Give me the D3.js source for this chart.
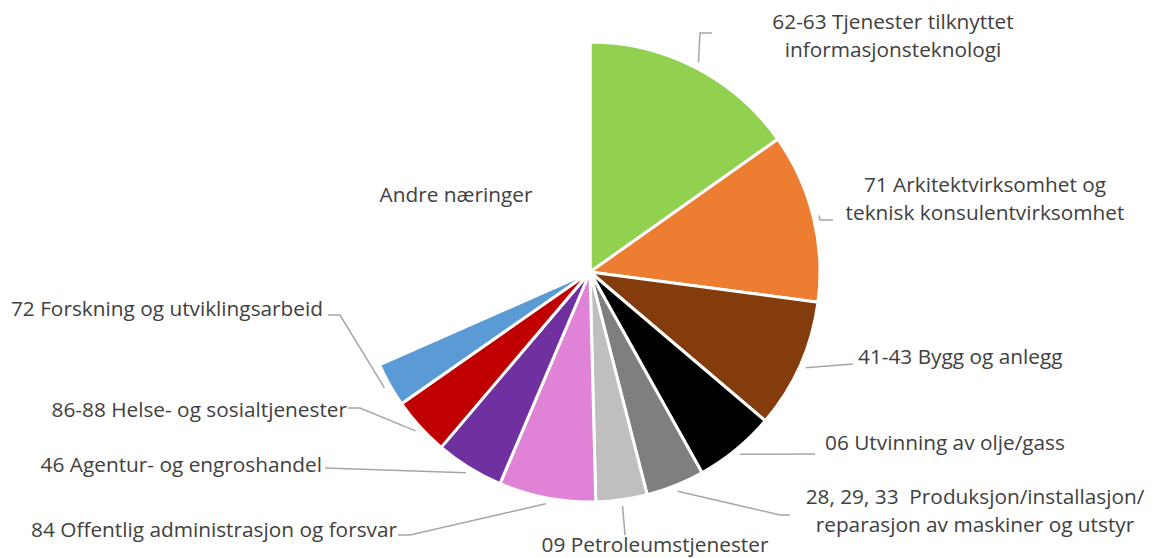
<!DOCTYPE html>
<html>
<head>
<meta charset="utf-8">
<script src="https://cdn.jsdelivr.net/npm/d3@7"></script>
<style>
  body { margin: 0; background: #fff; }
  svg text { font-family: "Open Sans", sans-serif; fill: #404040; white-space: pre; }
</style>
</head>
<body>
<svg id="chart" width="1152" height="558"></svg>
<script>
// data (percent of total)
var categories = [
  "62-63 Tjenester tilknyttet\ninformasjonsteknologi",
  "71 Arkitektvirksomhet og\nteknisk konsulentvirksomhet",
  "41-43 Bygg og anlegg",
  "06 Utvinning av olje/gass",
  "28, 29, 33  Produksjon/installasjon/\nreparasjon av maskiner og utstyr",
  "09 Petroleumstjenester",
  "84 Offentlig administrasjon og forsvar",
  "46 Agentur- og engroshandel",
  "86-88 Helse- og sosialtjenester",
  "72 Forskning og utviklingsarbeid",
  "Andre næringer"
];
var values = [15.2, 11.9, 9.1, 5.7, 4.1, 3.6, 6.8, 4.8, 4.1, 3.1, 31.6];
var colors = ["#92d050", "#ed7d31", "#843c0c", "#000000", "#7f7f7f", "#bfbfbf",
              "#e083d6", "#7030a0", "#c00000", "#5b9bd5", "none"];

//Dimension-related vars
var cx = 590, cy = 272, radius = 230;

// label placement: text anchor point, then leader points (elbow, end) – null = no leader
var labelLayout = [
  {x: 893, y: 29, anchor: 'middle', leader: [[700, 33], [712, 33]]},
  {x: 985, y: 192, anchor: 'middle', leader: [[820, 220], [833, 220]]},
  {x: 858, y: 364, anchor: 'start', leader: [[853, 364]]},
  {x: 825, y: 450, anchor: 'start', leader: [[815, 454]]},
  {x: 975, y: 504, anchor: 'middle', leader: [[780, 515], [790, 515]]},
  {x: 655, y: 552, anchor: 'middle', leader: [[625, 535]]},
  {x: 397, y: 537, anchor: 'end', leader: [[410, 535], [398, 535]]},
  {x: 322, y: 472, anchor: 'end', leader: [[325, 468]]},
  {x: 347, y: 417, anchor: 'end', leader: [[360, 408], [348, 408]]},
  {x: 323, y: 316, anchor: 'end', leader: [[340, 315], [328, 315]]},
  {x: 456, y: 202, anchor: 'middle', leader: null}
];

var slices = categories.map(function(c, i) {
  return {name: c, value: values[i], color: colors[i], layout: labelLayout[i]};
});

var svg = d3.select('#chart');
var g = svg.append('g').attr('transform', 'translate(' + cx + ',' + cy + ')');

var pie = d3.pie()
  .sort(null)
  .value(function(d) { return d.value; });

var arc = d3.arc().innerRadius(0).outerRadius(radius);
var leaderArc = d3.arc().innerRadius(radius + 6).outerRadius(radius + 6);

var arcs = pie(slices);

g.selectAll('path.slice')
  .data(arcs)
  .enter()
  .append('path')
  .attr('class', 'slice')
  .attr('d', arc)
  .style('fill', function(d) { return d.data.color === 'none' ? '#fff' : d.data.color; })
  .style('stroke', '#fff')
  .style('stroke-width', 3)
  .style('stroke-linejoin', 'round');

//Leader lines
var lineGenerator = d3.line();
arcs.forEach(function(d) {
  var lay = d.data.layout;
  if (!lay.leader) return;
  var p = leaderArc.centroid(d);
  var pts = [[p[0] + cx, p[1] + cy]].concat(lay.leader);
  svg.append('path')
    .attr('d', lineGenerator(pts))
    .style('fill', 'none')
    .style('stroke', '#a6a6a6')
    .style('stroke-width', 1.5);
});

//Labels
arcs.forEach(function(d) {
  var lay = d.data.layout;
  var lines = d.data.name.split('\n');
  var t = svg.append('text')
    .attr('x', lay.x)
    .attr('y', lay.y)
    .attr('text-anchor', lay.anchor)
    .attr('font-size', 20.8);
  lines.forEach(function(l, i) {
    t.append('tspan')
      .attr('x', lay.x)
      .attr('dy', i === 0 ? 0 : 28)
      .text(l);
  });
});
</script>
</body>
</html>
